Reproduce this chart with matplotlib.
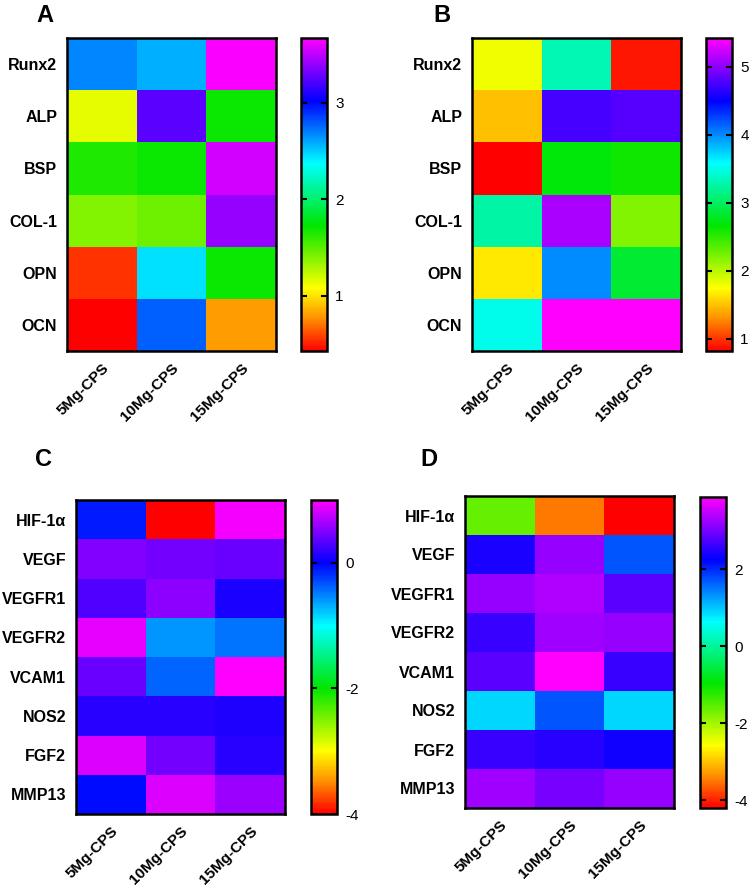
import numpy as np
import matplotlib
matplotlib.use('Agg')
import matplotlib.pyplot as plt
from matplotlib.colors import LinearSegmentedColormap

plt.rcParams['font.family'] = ['Liberation Sans', 'DejaVu Sans']
plt.rcParams['axes.unicode_minus'] = False

# Datos
grupos = ['5Mg-CPS', '10Mg-CPS', '15Mg-CPS']
genes_ab = ['Runx2', 'ALP', 'BSP', 'COL-1', 'OPN', 'OCN']
genes_cd = ['HIF-1α', 'VEGF', 'VEGFR1', 'VEGFR2', 'VCAM1', 'NOS2', 'FGF2', 'MMP13']

valores_a = [[2.68, 2.58, 3.65],
             [1.15, 3.25, 1.70],
             [1.65, 1.70, 3.55],
             [1.40, 1.45, 3.40],
             [0.55, 2.45, 1.70],
             [0.43, 2.78, 0.80]]
rango_a = (0.43, 3.67)
ticks_a = [1, 2, 3]

valores_b = [[1.80, 3.30, 0.90],
             [1.50, 4.75, 4.80],
             [0.82, 2.70, 2.60],
             [3.25, 5.10, 2.20],
             [1.65, 4.00, 2.85],
             [3.50, 5.42, 5.42]]
rango_b = (0.82, 5.42)
ticks_b = [1, 2, 3, 4, 5]

valores_c = [[-0.10, -4.00, 0.95],
             [0.50, 0.45, 0.40],
             [0.30, 0.55, 0.10],
             [0.90, -0.60, -0.45],
             [0.40, -0.40, 1.00],
             [0.15, 0.15, 0.12],
             [0.85, 0.45, 0.15],
             [-0.05, 0.85, 0.60]]
rango_c = (-4.0, 1.0)
ticks_c = [-4, -2, 0]

valores_d = [[-1.60, -3.50, -4.20],
             [2.40, 3.20, 1.70],
             [3.20, 3.35, 2.80],
             [2.60, 3.25, 3.20],
             [2.80, 3.87, 2.60],
             [0.90, 1.70, 0.90],
             [2.60, 2.50, 2.35],
             [3.25, 3.00, 3.20]]
rango_d = (-4.2, 3.87)
ticks_d = [-4, -2, 0, 2]

# Mapa de color tipo arcoiris (rojo -> magenta)
cmap = LinearSegmentedColormap.from_list('arcoiris', [
    (0.0, (1, 0, 0)),
    (0.1, (1, 0.55, 0)),
    (0.2, (1, 1, 0)),
    (0.4, (0, 0.9, 0)),
    (0.6, (0, 1, 1)),
    (0.8, (0, 0, 1)),
    (1.0, (1, 0, 1))])

fig = plt.figure(figsize=(7.55, 8.91), dpi=100)
W, H = 755.0, 891.0


def caja(x0, y0, x1, y1):
    return [x0 / W, 1 - y1 / H, (x1 - x0) / W, (y1 - y0) / H]


def panel(datos, genes, rango, ticks, hm, cb, letra, pos_letra):
    ax = fig.add_axes(caja(*hm))
    cax = fig.add_axes(caja(*cb))
    m = ax.pcolormesh(np.array(datos), cmap=cmap, vmin=rango[0], vmax=rango[1])
    ax.set_ylim(len(genes), 0)
    ax.set_xticks(np.arange(len(grupos)) + 0.5)
    ax.set_xticklabels(grupos, rotation=45, ha='right', rotation_mode='anchor',
                       fontsize=11, fontweight='bold')
    ax.set_yticks(np.arange(len(genes)) + 0.5)
    ax.set_yticklabels(genes, fontsize=11.5, fontweight='bold')
    ax.tick_params(length=0, pad=7)
    for s in ax.spines.values():
        s.set_linewidth(1.8)
    cbar = fig.colorbar(m, cax=cax, ticks=ticks)
    cbar.outline.set_linewidth(1.8)
    cax.tick_params(labelsize=11, length=4, width=1.5, direction='in', pad=6,
                    left=True, right=True)
    fig.text(pos_letra[0] / W, 1 - pos_letra[1] / H, letra, fontsize=17,
             fontweight='bold', ha='center', va='center')


panel(valores_a, genes_ab, rango_a, ticks_a, (67, 38, 276, 351), (301, 38, 327, 351), 'A', (45, 15))
panel(valores_b, genes_ab, rango_b, ticks_b, (472, 38, 681, 351), (706, 38, 732, 351), 'B', (442, 15))
panel(valores_c, genes_cd, rango_c, ticks_c, (76, 500, 285, 814), (311, 500, 337, 814), 'C', (44, 460))
panel(valores_d, genes_cd, rango_d, ticks_d, (465, 496, 674, 808), (700, 497, 726, 808), 'D', (429, 459))

plt.savefig('out.png', dpi=100)
